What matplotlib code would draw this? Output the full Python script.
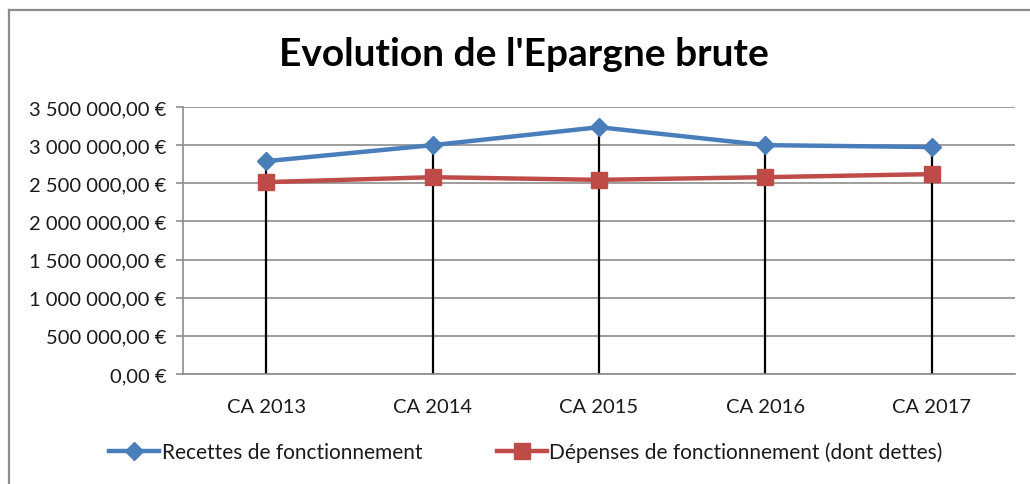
import numpy as np
import matplotlib.pyplot as plt
from matplotlib.ticker import FuncFormatter
from matplotlib.lines import Line2D

categories = ["CA 2013", "CA 2014", "CA 2015", "CA 2016", "CA 2017"]
recettes = [2790000, 3000000, 3235000, 3000000, 2975000]
depenses = [2515000, 2580000, 2545000, 2580000, 2620000]
yticks = [0, 500000, 1000000, 1500000, 2000000, 2500000, 3000000, 3500000]

plt.rcParams['font.family'] = ['Lato', 'DejaVu Sans']

def euro(v, pos):
    s = f"{v:,.2f}".replace(",", " ").replace(".", ",")
    return s + " €"

fig = plt.figure(figsize=(10.3, 4.85), dpi=100)
W, H = 1030, 485
ax = fig.add_axes([183 / W, 1 - 375 / H, (1015 - 183) / W, (375 - 108) / H])

x = np.arange(len(categories))
top = np.maximum(recettes, depenses)
ax.vlines(x, 0, top, color='black', lw=1.6, zorder=2)

ax.plot(x, recettes, color='#4a7ebb', lw=3.2, marker='D', ms=9, zorder=3,
        label="Recettes de fonctionnement")
ax.plot(x, depenses, color='#be4b48', lw=3.2, marker='s', ms=11, zorder=3,
        label="Dépenses de fonctionnement (dont dettes)")

ax.set_xlim(-0.5, len(categories) - 0.5)
ax.set_ylim(0, 3500000)
ax.set_yticks(yticks)
ax.yaxis.set_major_formatter(FuncFormatter(euro))
ax.set_xticks(x)
ax.set_xticklabels(categories)
ax.grid(axis='y', color='#8c8c8c', lw=1.2, zorder=0)
for s in ['top', 'right']:
    ax.spines[s].set_visible(False)
for s in ['left', 'bottom']:
    ax.spines[s].set_color('#8c8c8c')
    ax.spines[s].set_linewidth(1.2)
ax.tick_params(axis='y', length=5, color='#8c8c8c', width=1.2, labelsize=14.5, pad=7, labelcolor='#1a1a1a')
ax.tick_params(axis='x', length=0, labelsize=14.5, pad=17, labelcolor='#1a1a1a')

fig.text(524 / W, 1 - 55 / H, "Evolution de l'Epargne brute", ha='center', va='center',
         fontsize=28, fontweight='bold', color='black')

handles = [
    Line2D([], [], color='#4a7ebb', lw=3.2, marker='D', ms=9),
    Line2D([], [], color='#be4b48', lw=3.2, marker='s', ms=11),
]
fig.legend(handles, ["Recettes de fonctionnement", "Dépenses de fonctionnement (dont dettes)"],
           loc='center', bbox_to_anchor=(526 / W, 1 - 453 / H), ncol=2, frameon=False,
           fontsize=15, handlelength=2.4, columnspacing=3.6, handletextpad=0.1, labelcolor='#1a1a1a')

# outer chart border (left and top visible)
fig.add_artist(Line2D([9 / W, 9 / W], [0, 1 - 11 / H], transform=fig.transFigure, color='#8c8c8c', lw=1.6))
fig.add_artist(Line2D([9 / W, 1], [1 - 11 / H, 1 - 11 / H], transform=fig.transFigure, color='#8c8c8c', lw=1.6))

fig.savefig("out.png", dpi=100)
